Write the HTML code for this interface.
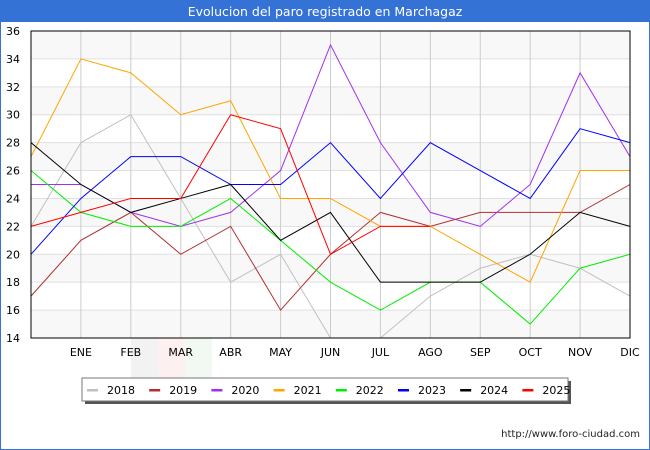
<!DOCTYPE html>
<html><head><meta charset="utf-8"><style>
body{margin:0;background:#fff}
svg{display:block;font-family:"DejaVu Sans","Liberation Sans",sans-serif}
</style></head><body>
<svg id="c" width="650" height="450">
<rect x="0.5" y="0.5" width="649" height="449" fill="#fff" stroke="#3572d6"/>
<rect x="0" y="0" width="650" height="22" fill="#3572d6"/>
<text x="325" y="16" fill="#fff" font-size="12.5" text-anchor="middle">Evolucion del paro registrado en Marchagaz</text>
<rect x="131" y="338" width="27" height="40" fill="#f2f2f2"/>
<rect x="158" y="338" width="27" height="40" fill="#fdf0f0"/>
<rect x="185" y="338" width="27" height="40" fill="#f2f8f2"/>
<g id="grid"></g>
<g id="series"></g>
<rect x="31" y="31" width="599" height="307" fill="none" stroke="#000"/>
<g id="axes"></g>
<g>
<rect x="85" y="381" width="486" height="23" fill="#555"/>
<rect x="82" y="378" width="486" height="23" fill="#fff" stroke="#777"/>
<g id="legend"></g>
</g>
<text x="640" y="437" font-size="10" text-anchor="end" fill="#222">http://www.foro-ciudad.com</text>
</svg>
<script>
const months=["ENE","FEB","MAR","ABR","MAY","JUN","JUL","AGO","SEP","OCT","NOV","DIC"];
const yTicks=[14,16,18,20,22,24,26,28,30,32,34,36];
const years=["2018","2019","2020","2021","2022","2023","2024","2025"];
const colors=["#c0c0c0","#b03030","#a030f0","#ffa500","#00ee00","#0000ff","#000000","#ff0000"];
const s2018=[22,28,30,24,18,20,14,14,17,19,20,19,17];
const s2019=[17,21,23,20,22,16,20,23,22,23,23,23,25];
const s2020=[25,25,23,22,23,26,35,28,23,22,25,33,27];
const s2021=[27,34,33,30,31,24,24,22,22,20,18,26,26];
const s2022=[26,23,22,22,24,21,18,16,18,18,15,19,20];
const s2023=[20,24,27,27,25,25,28,24,28,26,24,29,28];
const s2024=[28,25,23,24,25,21,23,18,18,18,20,23,22];
const s2025=[22,23,24,24,30,29,20,22,22];
const allSeries=[s2018,s2019,s2020,s2021,s2022,s2023,s2024,s2025];
const NS="http://www.w3.org/2000/svg";
const L=31,R=630,T=31,B=338,ymin=14,ymax=36;
const xs=i=>L+i*(R-L)/12;
const ys=v=>B-(v-ymin)*(B-T)/(ymax-ymin);
function mk(tag,attrs,parent){const e=document.createElementNS(NS,tag);for(const k in attrs)e.setAttribute(k,attrs[k]);parent.appendChild(e);return e;}
const grid=document.getElementById('grid'),axes=document.getElementById('axes'),ser=document.getElementById('series'),leg=document.getElementById('legend');
for(let i=0;i<yTicks.length-1;i++){
  const r=mk('rect',{x:L,y:ys(yTicks[i+1]),width:R-L,height:ys(yTicks[i])-ys(yTicks[i+1]),fill:i%2===0?'#f8f8f8':'#ffffff'},grid);
  
  
}
yTicks.forEach(v=>{
  const l=mk('line',{x1:L,x2:R,y1:ys(v),y2:ys(v),stroke:'#e0e0e0'},grid);
  
  
  const t=mk('text',{x:20,y:ys(v)+4,'font-size':11,'text-anchor':'end',fill:'#000'},axes);
  t.textContent=v;
  
  
});
months.forEach((m,i)=>{
  const x=xs(i+1);
  const l=mk('line',{x1:x,x2:x,y1:T,y2:B,stroke:'#cccccc'},grid);
  
  
  const t=mk('text',{x:x,y:356,'font-size':11,'text-anchor':'middle',fill:'#000'},axes);
  t.textContent=m;
  
  
});
allSeries.forEach((s,k)=>{
  const p=mk('polyline',{points:s.map((v,i)=>xs(i)+','+ys(v)).join(' '),fill:'none',stroke:colors[k],'stroke-width':1},ser);
  
  
});
years.forEach((y,k)=>{
  const x=87+k*62.2;
  const r=mk('rect',{x:x,y:389,width:11,height:2.5,fill:colors[k]},leg);
  
  
  const t=mk('text',{x:x+20,y:394,'font-size':11,fill:'#000'},leg);
  t.textContent=y;
  
  
});
</script>
</body></html>
